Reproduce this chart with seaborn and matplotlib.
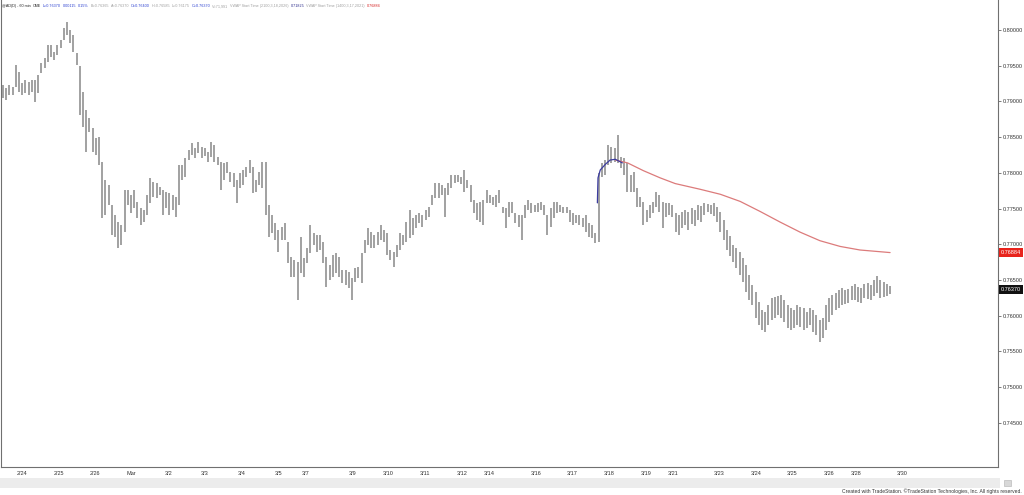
import numpy as np
import pandas as pd
import matplotlib
import matplotlib.pyplot as plt
import seaborn as sns
from matplotlib.patches import Rectangle

matplotlib.use('agg')
sns.set_style('white')
plt.rcParams['font.family'] = ['Liberation Sans', 'DejaVu Sans']

# Hourly bars (high / low), oldest first
highs = [
    0.7923, 0.7919, 0.7923, 0.7920, 0.7951, 0.7941, 0.7926, 0.7930, 0.7927, 0.7930,
    0.7930, 0.7937, 0.7954, 0.7961, 0.7979, 0.7979, 0.7969, 0.7979, 0.7986, 0.8003,
    0.8011, 0.8000, 0.7993, 0.7968, 0.7950, 0.7913, 0.7888, 0.7877, 0.7863, 0.7849,
    0.7850, 0.7815, 0.7790, 0.7783, 0.7755, 0.7741, 0.7731, 0.7727, 0.7776, 0.7776,
    0.7769, 0.7776, 0.7759, 0.7751, 0.7748, 0.7769, 0.7793, 0.7787, 0.7786, 0.7780,
    0.7776, 0.7773, 0.7772, 0.7769, 0.7766, 0.7811, 0.7811, 0.7821, 0.7832, 0.7842,
    0.7835, 0.7843, 0.7836, 0.7835, 0.7829, 0.7843, 0.7839, 0.7822, 0.7815, 0.7814,
    0.7815, 0.7801, 0.7800, 0.7790, 0.7800, 0.7804, 0.7808, 0.7818, 0.7808, 0.7790,
    0.7801, 0.7815, 0.7815, 0.7755, 0.7741, 0.7730, 0.7720, 0.7724, 0.7730, 0.7703,
    0.7682, 0.7678, 0.7675, 0.7710, 0.7681, 0.7695, 0.7727, 0.7716, 0.7713, 0.7713,
    0.7703, 0.7682, 0.7671, 0.7685, 0.7688, 0.7682, 0.7664, 0.7664, 0.7661, 0.7653,
    0.7667, 0.7668, 0.7688, 0.7706, 0.7723, 0.7717, 0.7713, 0.7717, 0.7727, 0.7720,
    0.7716, 0.7692, 0.7689, 0.7699, 0.7716, 0.7713, 0.7731, 0.7748, 0.7737, 0.7741,
    0.7744, 0.7741, 0.7748, 0.7752, 0.7769, 0.7786, 0.7786, 0.7783, 0.7779, 0.7786,
    0.7797, 0.7797, 0.7797, 0.7794, 0.7804, 0.7790, 0.7783, 0.7762, 0.7758, 0.7759,
    0.7762, 0.7776, 0.7769, 0.7766, 0.7769, 0.7776, 0.7752, 0.7751, 0.7759, 0.7759,
    0.7744, 0.7741, 0.7741, 0.7755, 0.7762, 0.7758, 0.7755, 0.7758, 0.7759, 0.7755,
    0.7741, 0.7751, 0.7759, 0.7759, 0.7755, 0.7752, 0.7752, 0.7748, 0.7744, 0.7741,
    0.7741, 0.7737, 0.7741, 0.7730, 0.7727, 0.7716, 0.7800, 0.7814, 0.7818, 0.7839,
    0.7836, 0.7835, 0.7853, 0.7822, 0.7821, 0.7814, 0.7797, 0.7801, 0.7779, 0.7766,
    0.7759, 0.7748, 0.7755, 0.7759, 0.7773, 0.7769, 0.7759, 0.7758, 0.7758, 0.7755,
    0.7744, 0.7741, 0.7745, 0.7748, 0.7745, 0.7751, 0.7748, 0.7755, 0.7754, 0.7758,
    0.7756, 0.7755, 0.7758, 0.7752, 0.7745, 0.7734, 0.7720, 0.7712, 0.7699, 0.7695,
    0.7689, 0.7681, 0.7671, 0.7657, 0.7643, 0.7633, 0.7619, 0.7608, 0.7605, 0.7615,
    0.7625, 0.7626, 0.7628, 0.7629, 0.7622, 0.7615, 0.7611, 0.7608, 0.7615, 0.7612,
    0.7611, 0.7605, 0.7611, 0.7608, 0.7601, 0.7594, 0.7597, 0.7615, 0.7625, 0.7629,
    0.7632, 0.7636, 0.7639, 0.7636, 0.7637, 0.7642, 0.7644, 0.7640, 0.7639, 0.7644,
    0.7646, 0.7643, 0.7650, 0.7656, 0.7650, 0.7647, 0.7644, 0.7642,
]
lows = [
    0.7905, 0.7902, 0.7909, 0.7909, 0.7920, 0.7913, 0.7909, 0.7912, 0.7909, 0.7913,
    0.7899, 0.7912, 0.7940, 0.7947, 0.7955, 0.7962, 0.7958, 0.7965, 0.7975, 0.7986,
    0.7993, 0.7982, 0.7969, 0.7951, 0.7881, 0.7864, 0.7829, 0.7857, 0.7829, 0.7825,
    0.7811, 0.7737, 0.7741, 0.7755, 0.7713, 0.7710, 0.7695, 0.7699, 0.7717, 0.7755,
    0.7744, 0.7751, 0.7737, 0.7727, 0.7731, 0.7741, 0.7758, 0.7766, 0.7765, 0.7769,
    0.7741, 0.7751, 0.7741, 0.7748, 0.7738, 0.7755, 0.7790, 0.7794, 0.7818, 0.7825,
    0.7821, 0.7828, 0.7821, 0.7824, 0.7815, 0.7822, 0.7815, 0.7811, 0.7776, 0.7790,
    0.7800, 0.7787, 0.7780, 0.7758, 0.7779, 0.7783, 0.7794, 0.7800, 0.7772, 0.7773,
    0.7783, 0.7779, 0.7741, 0.7710, 0.7716, 0.7706, 0.7689, 0.7706, 0.7706, 0.7674,
    0.7654, 0.7654, 0.7622, 0.7660, 0.7654, 0.7674, 0.7688, 0.7699, 0.7689, 0.7692,
    0.7674, 0.7640, 0.7650, 0.7654, 0.7660, 0.7654, 0.7646, 0.7643, 0.7639, 0.7622,
    0.7647, 0.7653, 0.7646, 0.7688, 0.7699, 0.7695, 0.7695, 0.7699, 0.7706, 0.7703,
    0.7685, 0.7678, 0.7668, 0.7682, 0.7692, 0.7699, 0.7703, 0.7709, 0.7713, 0.7723,
    0.7730, 0.7724, 0.7734, 0.7738, 0.7755, 0.7765, 0.7765, 0.7769, 0.7738, 0.7769,
    0.7779, 0.7786, 0.7787, 0.7784, 0.7773, 0.7779, 0.7759, 0.7744, 0.7734, 0.7731,
    0.7727, 0.7758, 0.7758, 0.7755, 0.7752, 0.7758, 0.7744, 0.7723, 0.7738, 0.7744,
    0.7730, 0.7724, 0.7706, 0.7737, 0.7748, 0.7744, 0.7745, 0.7745, 0.7748, 0.7741,
    0.7713, 0.7724, 0.7737, 0.7744, 0.7745, 0.7744, 0.7744, 0.7731, 0.7727, 0.7730,
    0.7727, 0.7724, 0.7717, 0.7710, 0.7709, 0.7702, 0.7703, 0.7794, 0.7797, 0.7811,
    0.7814, 0.7815, 0.7814, 0.7807, 0.7797, 0.7773, 0.7773, 0.7773, 0.7752, 0.7752,
    0.7727, 0.7731, 0.7737, 0.7744, 0.7752, 0.7745, 0.7723, 0.7738, 0.7741, 0.7738,
    0.7717, 0.7713, 0.7723, 0.7727, 0.7720, 0.7728, 0.7726, 0.7734, 0.7731, 0.7741,
    0.7745, 0.7742, 0.7740, 0.7731, 0.7717, 0.7706, 0.7692, 0.7684, 0.7675, 0.7667,
    0.7657, 0.7647, 0.7633, 0.7622, 0.7615, 0.7597, 0.7587, 0.7580, 0.7577, 0.7587,
    0.7594, 0.7597, 0.7601, 0.7597, 0.7591, 0.7583, 0.7580, 0.7583, 0.7587, 0.7584,
    0.7580, 0.7583, 0.7587, 0.7577, 0.7573, 0.7563, 0.7569, 0.7580, 0.7591, 0.7601,
    0.7608, 0.7611, 0.7615, 0.7616, 0.7618, 0.7622, 0.7622, 0.7619, 0.7618, 0.7625,
    0.7623, 0.7622, 0.7628, 0.7632, 0.7625, 0.7626, 0.7628, 0.7630,
]

# VWAP lines (bar position, value)
vwap_red_pos = [191.2, 195, 200, 205.2, 209.9, 217.7, 224, 230.2, 236.4, 242.7, 248.9, 255.1, 261.4, 267.6, 277]
vwap_red_val = [0.7818, 0.7814, 0.7803, 0.7793, 0.7785, 0.7777, 0.7770, 0.7760, 0.7746, 0.7731,
                0.7717, 0.7705, 0.7697, 0.7692, 0.76884]
vwap_blue_pos = [185.6, 185.8, 186.5, 188.1, 189.6, 191.2, 193.4]
vwap_blue_val = [0.7758, 0.7793, 0.7804, 0.7812, 0.7818, 0.7819, 0.7814]

last_price = 0.76370
vwap_last = 0.76884

date_labels = ['2/24', '2/25', '2/26', 'Mar', '3/2', '3/3', '3/4', '3/5', '3/7', '3/9', '3/10', '3/11',
               '3/12', '3/14', '3/16', '3/17', '3/18', '3/19', '3/21', '3/23', '3/24', '3/25', '3/26',
               '3/28', '3/30']
date_pos = [5.9, 17.5, 28.7, 40.2, 51.8, 63.0, 74.5, 86.1, 94.5, 109.2, 120.4, 131.9, 143.5, 151.9,
            166.6, 177.8, 189.3, 200.9, 209.3, 223.6, 235.2, 246.4, 257.9, 266.4, 280.7]
price_ticks = [0.745, 0.750, 0.755, 0.760, 0.765, 0.770, 0.775, 0.780, 0.785, 0.790, 0.795, 0.800]

header_parts = ['@AD(D) - 60 min', 'CME', 'L=0.76370', '0.00115', '0.15%', 'B=0.76365', 'A=0.76370',
                'O=0.76400', 'H=0.76585', 'L=0.76175', 'C=0.76370', 'V=71,991',
                'VWAP Start Time (2100,3,18,2026)', '0.71825', 'VWAP Start Time (1400,3,17,2021)', '0.76884']
header_colors = ['#222222', '#222222', '#2a3fd0', '#2a3fd0', '#2a3fd0', '#a0a0a0', '#a0a0a0', '#2a3fd0',
                 '#a0a0a0', '#a0a0a0', '#2a3fd0', '#a0a0a0', '#a0a0a0', '#2a2a8a', '#a0a0a0', '#d42020']

bars = pd.DataFrame({'high': highs, 'low': lows})
bars['pos'] = np.arange(len(bars))

fig = plt.figure(figsize=(10.24, 4.95), dpi=100)
ax = fig.add_axes([0.001, 28 / 495, 997 / 1024, 467 / 495])

ax.vlines(bars['pos'], bars['low'], bars['high'], color='#8c8c8c', lw=1.15)
sns.lineplot(x=vwap_red_pos, y=vwap_red_val, color='#dc7b7b', lw=0.9, sort=False, ax=ax)
sns.lineplot(x=vwap_blue_pos, y=vwap_blue_val, color='#3c3ca0', lw=0.9, sort=False, ax=ax)

ax.set_xlim(-0.6, 310.7)
ax.set_ylim(0.73882, 0.8042)

ax.set_xticks(date_pos)
ax.set_xticklabels(date_labels)
ax.tick_params(axis='x', direction='inout', length=4, width=0.6, color='#666666',
               labelsize=4, labelcolor='#333333', pad=1)
ax.yaxis.tick_right()
ax.set_yticks(price_ticks)
ax.set_yticklabels([f'{v:.5f}' for v in price_ticks])
ax.tick_params(axis='y', direction='out', length=2.5, width=0.6, color='#666666',
               labelsize=4, labelcolor='#333333', pad=1)

for side in ['left', 'right', 'bottom']:
    ax.spines[side].set_color('#707070')
    ax.spines[side].set_linewidth(0.8)
ax.spines['top'].set_visible(False)

# price flags on the right scale
for val, col in [(vwap_last, '#e8231c'), (last_price, '#111111')]:
    ax.text(1.003, val, f'{val:.5f}', transform=ax.get_yaxis_transform(), color='white',
            fontsize=4, va='center', ha='left', clip_on=False,
            bbox=dict(boxstyle='square,pad=0.35', fc=col, ec='none'))

# header line
prev = fig.text(0.002, 0.983, header_parts[0], color=header_colors[0], fontsize=2.7,
                ha='left', va='bottom')
for s, c in zip(header_parts[1:], header_colors[1:]):
    prev = ax.annotate(s, xy=(1, 0), xycoords=prev, xytext=(1.3, 0), textcoords='offset points',
                       color=c, fontsize=2.7, ha='left', va='bottom', annotation_clip=False)

# bottom scrollbar band and footer
fig.add_artist(Rectangle((0, 7 / 495), 1000 / 1024, 10 / 495, transform=fig.transFigure,
                         fc='#ececec', ec='none'))
fig.add_artist(Rectangle((1004 / 1024, 9 / 495), 7 / 1024, 6 / 495, transform=fig.transFigure,
                         fc='#d8d8d8', ec='#b0b0b0', lw=0.4))
fig.text(0.998, 0.003, 'Created with TradeStation. \u00a9TradeStation Technologies, Inc. All rights reserved.',
         ha='right', va='bottom', fontsize=3.6, color='#333333')

fig.savefig('out.png', dpi=100)
plt.close()
